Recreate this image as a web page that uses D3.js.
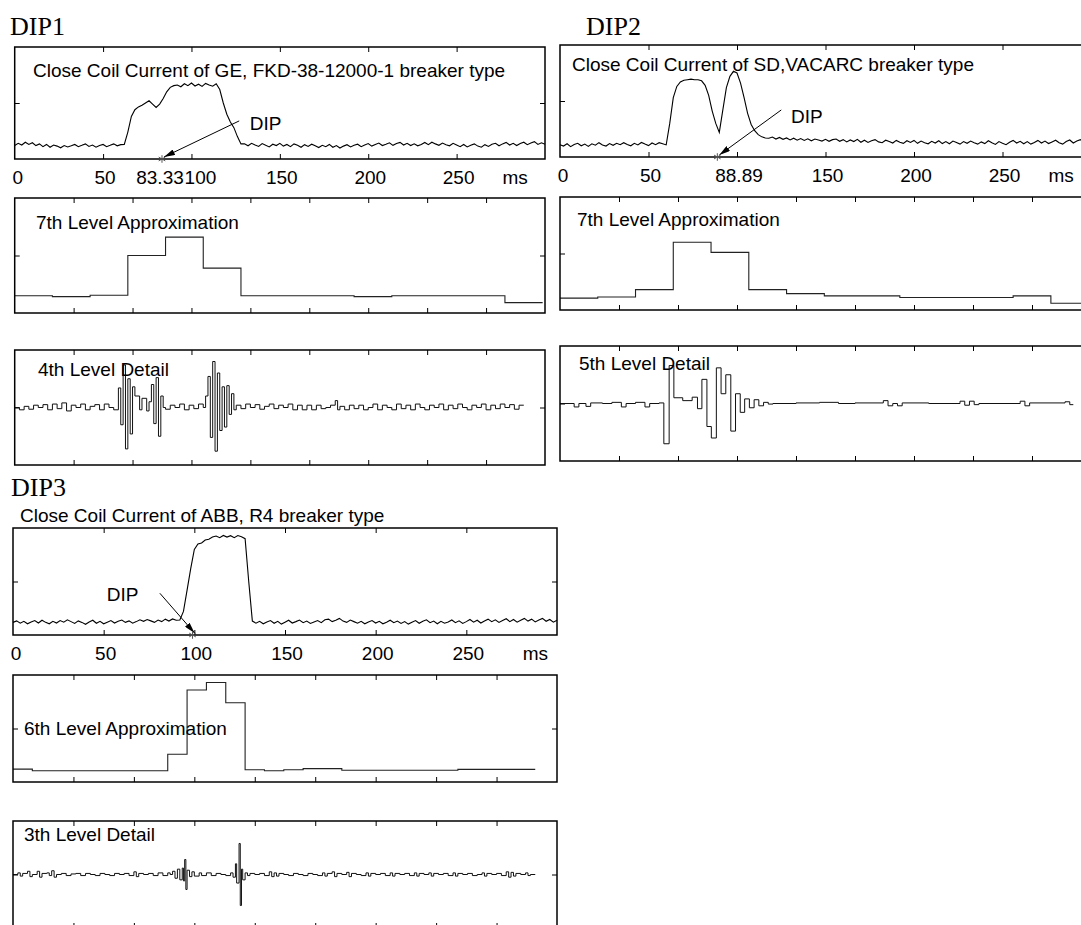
<!DOCTYPE html>
<html>
<head>
<meta charset="utf-8">
<script src="https://cdn.jsdelivr.net/npm/d3@7"></script>
<style>
body { margin: 0; background: #fff; }
svg { display: block; }
text { font-family: "Liberation Sans", Arial, sans-serif; font-size: 19px; fill: #000; }
.dipname { font-family: "Liberation Serif", "Times New Roman", serif; font-size: 26px; }
</style>
</head>
<body>
<script>
// ---- raw close-coil currents, one value every rawStep ms (0..300 ms), fraction of panel height
const rawStep = 2;
const dip1Raw = [
  0.12,0.14,0.125,0.15,0.13,0.145,0.12,0.135,0.11,0.13,0.105,0.125,0.115,0.1,0.12,0.108,0.118,0.13,0.11,0.122,0.135,0.112,0.125,0.105,0.12,0.13,0.11,0.122,0.135,0.118,0.128,
  0.13,0.24,0.38,0.44,0.465,0.48,0.5,0.52,0.49,0.46,0.49,0.54,0.6,0.64,0.655,
  0.66,0.645,0.672,0.655,0.678,0.652,0.668,0.648,0.675,0.66,0.65,0.672,
  0.62,0.5,0.4,0.33,0.28,0.2,0.135,
  0.135,0.118,0.14,0.125,0.112,0.138,0.122,0.108,0.132,0.12,
  0.14,0.115,0.13,0.11,0.135,0.122,0.105,0.128,0.112,0.132,
  0.118,0.102,0.122,0.11,0.13,0.105,0.12,0.098,0.115,0.128,
  0.108,0.122,0.132,0.11,0.125,0.138,0.115,0.13,0.142,0.12,
  0.132,0.145,0.122,0.138,0.148,0.125,0.14,0.12,0.136,0.118,
  0.13,0.148,0.128,0.15,0.135,0.122,0.142,0.128,0.118,0.14,
  0.125,0.11,0.13,0.108,0.122,0.135,0.115,0.105,0.128,0.112,
  0.132,0.14,0.118,0.135,0.148,0.125,0.14,0.12,0.138,0.15,
  0.128,0.142,0.155,0.13,0.145,0.132
];
const dip2Raw = [
  0.11,0.098,0.118,0.092,0.112,0.122,0.1,0.115,0.095,0.118,0.105,0.128,0.108,0.098,0.12,0.104,0.122,0.11,0.128,0.112,0.1,0.122,0.108,0.13,0.115,0.102,0.125,0.11,0.128,0.118,0.108,
  0.3,0.53,0.63,0.67,0.685,0.69,0.695,0.69,0.69,0.68,0.64,0.55,0.41,0.3,0.22,0.42,0.62,0.72,0.765,0.75,0.66,0.53,0.39,0.29,0.235,0.2,0.18,0.17,
  0.168,0.178,0.16,0.175,0.158,0.17,0.152,0.168,0.15,0.165,
  0.148,0.162,0.145,0.16,0.152,0.142,0.158,0.14,0.155,0.16,
  0.14,0.155,0.135,0.152,0.138,0.158,0.132,0.15,0.13,0.145,
  0.155,0.135,0.128,0.15,0.138,0.125,0.148,0.132,0.122,0.145,
  0.13,0.148,0.122,0.142,0.128,0.118,0.14,0.125,0.145,0.12,
  0.138,0.118,0.142,0.13,0.115,0.138,0.122,0.142,0.128,0.115,
  0.135,0.12,0.145,0.128,0.112,0.138,0.122,0.11,0.132,0.148,
  0.125,0.14,0.118,0.138,0.115,0.13,0.148,0.125,0.142,0.12,
  0.135,0.15,0.128,0.115,0.138,0.152,0.125,0.142,0.155,0.13,
  0.148,0.125
];
const dip3Raw = [
  0.118,0.132,0.11,0.128,0.105,0.122,0.135,0.112,0.138,0.118,
  0.105,0.128,0.112,0.135,0.12,0.142,0.125,0.108,0.132,0.118,
  0.1,0.122,0.138,0.11,0.128,0.105,0.12,0.135,0.112,0.128,
  0.14,0.118,0.132,0.11,0.125,0.142,0.128,0.145,0.132,0.118,
  0.14,0.125,0.148,0.13,0.15,0.138,
  0.14,0.22,0.42,0.62,0.8,0.85,0.86,0.888,0.895,0.915,
  0.925,0.91,0.93,0.915,0.928,0.91,0.93,0.918,
  0.9,0.5,0.13,
  0.11,0.128,0.105,0.122,0.135,0.11,0.128,0.102,0.12,0.138,
  0.112,0.125,0.14,0.115,0.13,0.108,0.122,0.135,0.115,0.142,
  0.148,0.125,0.138,0.155,0.13,0.118,0.14,0.125,0.11,0.128,
  0.105,0.122,0.135,0.112,0.128,0.105,0.12,0.138,0.115,0.13,
  0.108,0.125,0.102,0.12,0.135,0.11,0.128,0.142,0.115,0.13,
  0.105,0.128,0.11,0.122,0.14,0.115,0.132,0.108,0.125,0.145,
  0.12,0.138,0.112,0.13,0.148,0.125,0.142,0.118,0.135,0.152,
  0.125,0.145,0.12,0.138,0.155,0.13,0.148,0.122,0.14,0.155,
  0.128,0.145,0.12,0.138
];

// ---- wavelet approximations: one value per block of samples
const dip1Approx = [0.15,0.142,0.155,0.5,0.66,0.39,0.15,0.15,0.15,0.142,0.15,0.15,0.15,0.09];   // 7th level, 128 samples
const dip2Approx = [0.105,0.115,0.18,0.6,0.51,0.18,0.145,0.125,0.125,0.11,0.11,0.11,0.125,0.06]; // 7th level, 128 samples
const dip3Approx = [0.12,0.105,0.105,0.105,0.105,0.105,0.105,0.105,0.26,0.86,0.93,0.74,0.115,0.105,0.115,0.125,0.125,
                    0.11,0.11,0.11,0.11,0.11,0.11,0.118,0.118,0.118,0.118];                             // 6th level, 64 samples
const approxBlock = [128, 128, 64];

// ---- wavelet details: [sample, value] where the level changes
const dip1Detail = [[0,0],[16,-0.02],[32,0.01],[48,-0.015],[64,0.02],[80,0],[96,0.025],[112,-0.02],[128,0.03],[144,-0.01],[160,0.04],[176,-0.03],[192,0.02],[208,0],[224,0.03],[240,-0.02],[256,0.01],[272,0.025],[288,-0.02],[304,0.03],[320,0],[336,-0.02],
  [352,0.17],[360,-0.15],[368,0.37],[376,-0.36],[384,0.25],[392,-0.23],[400,0.18],[408,0.1],[424,-0.02],[432,0.08],[448,-0.03],[456,0.05],
  [464,0.2],[472,-0.14],[480,0.26],[488,-0.25],[496,0.1],[504,0],
  [512,-0.015],[528,0.02],[544,0],[560,0.03],[576,-0.02],[592,0.02],[608,-0.01],[624,0.03],[640,0],
  [648,0.1],[656,0.27],[664,-0.26],[672,0.4],[680,-0.38],[688,0.3],[696,-0.2],[704,0.18],[712,-0.17],[720,0.19],[728,-0.06],[736,0.12],[744,-0.02],
  [752,0.02],[768,-0.01],[784,0.03],[800,0],[816,0.025],[832,-0.015],[848,0.01],[864,0.03],[880,-0.01],[896,0.02],[912,0],[928,0.03],[944,-0.02],[960,0.02],[976,-0.02],[992,0.02],[1008,-0.02],[1024,0.02],[1040,-0.01],[1056,0],[1072,0.02],[1088,0.06],[1096,-0.02],[1104,0.01],[1120,-0.02],[1136,0.02],[1152,-0.01],[1168,0.02],[1184,-0.02],[1200,0],[1216,0.03],[1232,-0.02],[1248,0.02],[1264,0],[1280,-0.02],[1296,0.03],[1312,-0.01],[1328,0.02],[1344,-0.02],[1360,0.03],[1376,0],[1392,-0.02],[1408,0.02],[1424,0],[1440,0.03],[1456,-0.02],[1472,0.02],[1488,-0.01],[1504,0.03],[1520,0],[1536,-0.02],[1552,0.02],[1568,0],[1584,0.03],[1600,-0.02],[1616,0.02],[1632,-0.01],[1648,0.03],[1664,0],[1680,0.025],[1696,-0.015],[1712,0.02],[1728,0.02]];
const dip2Detail = [[0,0],[48,-0.03],[64,0],[88,-0.025],[104,0.005],[144,0],[176,0.01],[208,-0.03],[224,0],[256,0.01],[288,-0.03],[304,0],[336,0.005],
  [352,-0.35],[370,0.33],[386,0.05],[416,0.025],[448,0.055],[466,-0.045],[481,0.21],[498,-0.2],[513,-0.3],[530,0.31],[546,0.085],[562,0.25],[579,-0.24],[595,0.085],[611,-0.077],[626,0.04],[642,-0.037],[658,0.033],[674,-0.02],[690,0.01],[706,-0.005],[722,0],
  [800,0.005],[880,0.01],[944,0],[1000,0.005],[1096,0.025],[1112,-0.02],[1128,0],[1144,-0.02],[1160,0.005],[1250,0],[1356,0.02],[1372,-0.015],[1388,0.02],[1404,-0.01],[1420,0],[1560,0.02],[1576,-0.02],[1592,0.005],[1712,0.015],[1728,-0.01],[1740,-0.01]];
const dip3Detail = [[0,0],[16,0.015],[24,-0.015],[32,0.01],[48,0.03],[56,-0.02],[64,0],[80,0.03],[88,-0.025],[96,0.01],[112,0.015],[120,-0.01],[128,0.035],[136,-0.025],[144,0],[160,0.01],[176,-0.01],[192,0.005],[208,0.01],[224,-0.01],[240,0.01],[256,0],[272,-0.01],[288,0.01],[304,0],[320,-0.01],[336,0.01],[352,0],[368,0.01],[384,-0.01],[400,0.025],[408,-0.02],[416,0.01],[432,0],[448,0.01],[464,-0.01],[480,0.015],[496,-0.01],[512,0.015],[520,0],
  [528,0.03],[536,-0.035],[544,0.05],[552,-0.05],[560,0.06],[564,-0.06],[568,0.14],[572,-0.14],[576,0.04],[584,-0.02],[592,0.025],[600,-0.015],[616,0.015],[624,-0.01],[640,0.015],[656,-0.01],[672,0.01],[688,0],[704,-0.01],[720,0.015],[728,-0.025],
  [736,0.1],[740,-0.08],[748,0.29],[752,-0.29],[756,0.05],[760,-0.05],[768,0.015],[776,-0.01],
  [784,0.01],[800,0],[816,0.01],[832,-0.01],[848,0.025],[856,-0.02],[864,0.015],[872,-0.015],[880,0.01],[896,0],[912,-0.01],[928,0.01],[944,0],[960,-0.01],[976,0.01],[992,0],[1008,-0.01],[1024,0.015],[1032,-0.015],[1040,0.01],[1056,0.025],[1064,-0.02],[1072,0.01],[1088,0],[1104,0.02],[1112,-0.02],[1120,0.01],[1136,0],[1152,-0.01],[1168,0.015],[1176,-0.015],[1184,0.01],[1200,0],[1216,0.01],[1232,-0.01],[1248,0.015],[1256,-0.015],[1264,0.01],[1280,0],[1296,0.01],[1312,-0.01],[1328,0.015],[1336,-0.015],[1344,0.01],[1360,0],[1376,0.015],[1384,-0.015],[1392,0.01],[1408,0],[1424,0.01],[1440,-0.01],[1456,0.015],[1464,-0.015],[1472,0.01],[1488,0],[1504,0.01],[1520,-0.01],[1536,0],[1552,0.015],[1560,-0.015],[1568,0.01],[1584,0],[1600,0.01],[1616,-0.01],[1632,0.025],[1640,-0.025],[1648,0.02],[1656,-0.015],[1664,0.01],[1680,0],[1696,0.015],[1704,-0.01],[1712,0],[1728,0]];

// ---- axis ticks and labels
const msTicks = [50, 100, 150, 200, 250];
const sampleTicks = [200, 400, 600, 800, 1000, 1200, 1400, 1600];
const dip1TickVals = [0, 50, 83.33, 100, 150, 200, 250, 282];
const dip1TickText = ["0", "50", "83.33", "100", "150", "200", "250", "ms"];
const dip2TickVals = [0, 50, 100, 150, 200, 250, 282];
const dip2TickText = ["0", "50", "88.89", "150", "200", "250", "ms"];
const dip3TickVals = [0, 50, 100, 150, 200, 250, 287];
const dip3TickText = ["0", "50", "100", "150", "200", "250", "ms"];

// ---- DIP annotations (ms, value)
const dipTimes = [83.33, 88.89, 99];
const arrowTails = [[127, 0.34], [125, 0.42], [81, 0.39]];
const dipTextAt = [[133, 0.26], [130.5, 0.3], [51.7, 0.32]];

const groupNames = ["DIP1", "DIP2", "DIP3"];
const titles = [
  ["Close Coil Current of GE, FKD-38-12000-1 breaker type", "7th Level Approximation", "4th Level Detail"],
  ["Close Coil Current of SD,VACARC breaker type", "7th Level Approximation", "5th Level Detail"],
  ["Close Coil Current of ABB, R4 breaker type", "6th Level Approximation", "3th Level Detail"]
];

// ---- layout
const cols = [[14.7, 545], [560, 1091], [13, 557]];
const rows = [
  [[47, 159], [198, 313], [350, 465]],
  [[45, 157], [197, 310], [346, 461]],
  [[528, 635], [675, 782], [821, 928]]
];
const namePos = [[10, 35], [586, 35], [11, 496]];
const titlePos = [
  [[33, 77], [36, 229], [38, 376]],
  [[572, 71], [577, 226], [579, 370]],
  [[20, 522], [24, 735], [24, 841]]
];

const svg = d3.select("body").append("svg").attr("width", 1081).attr("height", 925);
svg.append("rect").attr("width", 1081).attr("height", 925).attr("fill", "#fff");

svg.append("defs").append("marker")
  .attr("id", "ahead").attr("viewBox", "0 0 11 6")
  .attr("refX", 11).attr("refY", 3)
  .attr("markerWidth", 11).attr("markerHeight", 6)
  .attr("markerUnits", "userSpaceOnUse").attr("orient", "auto")
  .append("path").attr("d", "M0,0L11,3L0,6Z").attr("fill", "#000");

function panel(col, row, xDomain, xTicks, yDomain, yTick) {
  const x = d3.scaleLinear().domain(xDomain).range([col[0], col[1]]);
  const y = d3.scaleLinear().domain(yDomain).range([row[1], row[0]]);
  const g = svg.append("g");
  const tk = -5;
  g.append("g").attr("transform", `translate(0,${row[0]})`)
    .call(d3.axisTop(x).tickValues(xTicks).tickSizeInner(tk).tickSizeOuter(0).tickFormat(""));
  g.append("g").attr("transform", `translate(0,${row[1]})`)
    .call(d3.axisBottom(x).tickValues(xTicks).tickSizeInner(tk).tickSizeOuter(0).tickFormat(""));
  g.append("g").attr("transform", `translate(${col[0]},0)`)
    .call(d3.axisLeft(y).tickValues([yTick]).tickSizeInner(tk).tickSizeOuter(0).tickFormat(""));
  g.append("g").attr("transform", `translate(${col[1]},0)`)
    .call(d3.axisRight(y).tickValues([yTick]).tickSizeInner(tk).tickSizeOuter(0).tickFormat(""));
  g.selectAll(".domain").remove();
  g.selectAll(".tick line").attr("stroke", "#000").attr("stroke-width", 1);
  const plot = g.append("g");
  g.append("rect")
    .attr("x", col[0]).attr("y", row[0])
    .attr("width", col[1] - col[0]).attr("height", row[1] - row[0])
    .attr("fill", "none").attr("stroke", "#000").attr("stroke-width", 1.5);
  return { g, plot, x, y };
}

const raws = [dip1Raw, dip2Raw, dip3Raw];
const approxs = [dip1Approx, dip2Approx, dip3Approx];
const details = [dip1Detail, dip2Detail, dip3Detail];
const tickVals = [dip1TickVals, dip2TickVals, dip3TickVals];
const tickText = [dip1TickText, dip2TickText, dip3TickText];

const star = d3.symbol().type(d3.symbolAsterisk || d3.symbolCross).size(40);

// small nudges so the crowded "83.33" / "100" pair just touch instead of overlapping
function labelShift(k, txt, i) {
  if (i === 0) return 3;
  if (k === 0 && txt === "83.33") return -2;
  if (k === 0 && txt === "100") return 9;
  return 2;
}

for (let k = 0; k < 3; k++) {
  const col = cols[k];

  svg.append("text").attr("class", "dipname")
    .attr("x", namePos[k][0]).attr("y", namePos[k][1]).text(groupNames[k]);

  // raw current
  const p1 = panel(col, rows[k][0], [0, 300], msTicks, [0, 1], 0.5);
  p1.plot.append("path")
    .datum(raws[k])
    .attr("d", d3.line().x((d, i) => p1.x(i * rawStep)).y(d => p1.y(d)))
    .attr("fill", "none").attr("stroke", "#000").attr("stroke-width", 1.1);

  p1.g.selectAll(null).data(tickVals[k]).join("text")
    .attr("x", (d, i) => p1.x(d) + labelShift(k, tickText[k][i], i))
    .attr("y", rows[k][0][1] + 24.5)
    .attr("text-anchor", "middle")
    .text((d, i) => tickText[k][i]);

  // DIP arrow, marker and label
  const tip = [p1.x(dipTimes[k]) + 2, p1.y(0) - 2];
  p1.g.append("line")
    .attr("x1", p1.x(arrowTails[k][0])).attr("y1", p1.y(arrowTails[k][1]))
    .attr("x2", tip[0]).attr("y2", tip[1])
    .attr("stroke", "#000").attr("stroke-width", 1)
    .attr("marker-end", "url(#ahead)");
  p1.g.append("path")
    .attr("d", star)
    .attr("transform", `translate(${p1.x(dipTimes[k])},${p1.y(0)})`)
    .attr("fill", "none").attr("stroke", "#555").attr("stroke-width", 1);
  p1.g.append("text")
    .attr("x", p1.x(dipTextAt[k][0])).attr("y", p1.y(dipTextAt[k][1]))
    .text("DIP");

  // approximation
  const p2 = panel(col, rows[k][1], [0, 1800], sampleTicks, [0, 1], 0.5);
  const blk = approxBlock[k];
  const apts = approxs[k].map((v, i) => [i * blk, v]);
  apts.push([approxs[k].length * blk, approxs[k][approxs[k].length - 1]]);
  p2.plot.append("path")
    .datum(apts)
    .attr("d", d3.line().curve(d3.curveStepAfter).x(d => p2.x(d[0])).y(d => p2.y(d[1])))
    .attr("fill", "none").attr("stroke", "#222").attr("stroke-width", 1.1);

  // detail
  const p3 = panel(col, rows[k][2], [0, 1800], sampleTicks, [-0.5, 0.5], 0);
  p3.plot.append("path")
    .datum(details[k])
    .attr("d", d3.line().curve(d3.curveStepAfter).x(d => p3.x(d[0])).y(d => p3.y(d[1])))
    .attr("fill", "none").attr("stroke", "#111").attr("stroke-width", 1);

  [p1, p2, p3].forEach((p, j) => {
    p.g.append("text")
      .attr("x", titlePos[k][j][0]).attr("y", titlePos[k][j][1])
      .text(titles[k][j]);
  });
}
</script>
</body>
</html>
